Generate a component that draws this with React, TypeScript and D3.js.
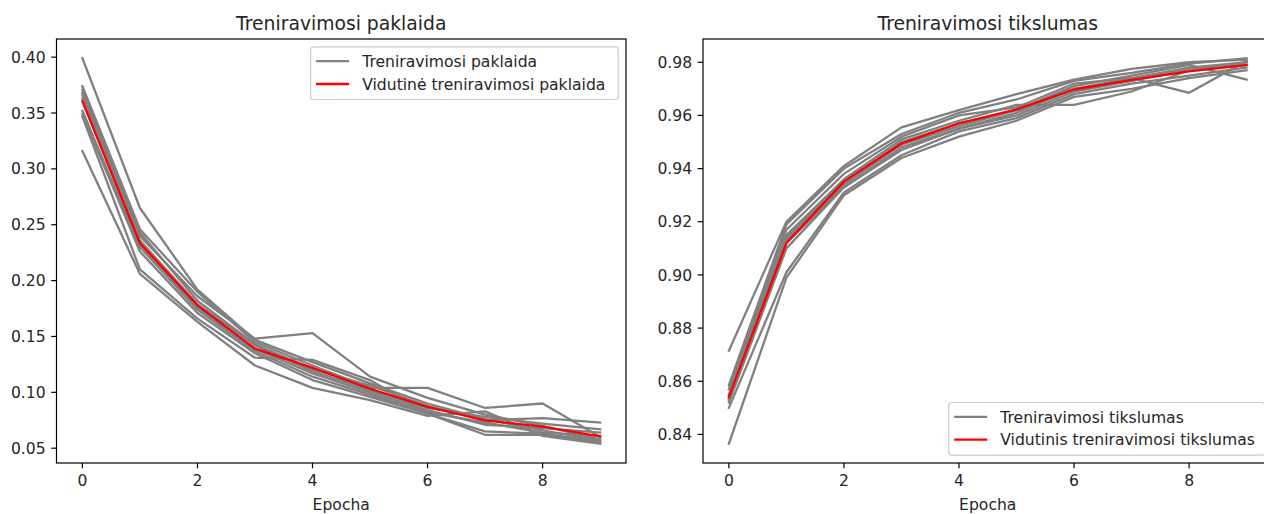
import React from "react";
import * as d3 from "d3";

const epochs = [0, 1, 2, 3, 4, 5, 6, 7, 8, 9];

const lossRuns: number[][] = [
  [0.399, 0.265, 0.192, 0.147, 0.127, 0.108, 0.090, 0.076, 0.066, 0.057],
  [0.371, 0.240, 0.186, 0.148, 0.153, 0.114, 0.095, 0.080, 0.070, 0.058],
  [0.374, 0.246, 0.190, 0.145, 0.124, 0.104, 0.104, 0.086, 0.090, 0.060],
  [0.368, 0.243, 0.182, 0.143, 0.121, 0.106, 0.088, 0.075, 0.077, 0.073],
  [0.366, 0.236, 0.179, 0.142, 0.119, 0.102, 0.086, 0.078, 0.072, 0.067],
  [0.363, 0.233, 0.176, 0.139, 0.117, 0.100, 0.084, 0.071, 0.068, 0.064],
  [0.352, 0.230, 0.174, 0.137, 0.114, 0.098, 0.082, 0.073, 0.064, 0.061],
  [0.349, 0.226, 0.171, 0.135, 0.111, 0.096, 0.081, 0.065, 0.063, 0.056],
  [0.347, 0.210, 0.166, 0.131, 0.129, 0.111, 0.081, 0.062, 0.062, 0.055],
  [0.316, 0.206, 0.163, 0.124, 0.104, 0.093, 0.079, 0.083, 0.061, 0.054],
];

const accRuns: number[][] = [
  [0.8715, 0.920, 0.941, 0.9555, 0.962, 0.968, 0.9735, 0.9775, 0.980, 0.981],
  [0.8585, 0.919, 0.940, 0.953, 0.961, 0.966, 0.973, 0.976, 0.9795, 0.9815],
  [0.857, 0.917, 0.938, 0.952, 0.960, 0.963, 0.972, 0.974, 0.9685, 0.9805],
  [0.855, 0.915, 0.936, 0.951, 0.958, 0.964, 0.964, 0.969, 0.977, 0.980],
  [0.854, 0.914, 0.935, 0.950, 0.957, 0.962, 0.971, 0.975, 0.979, 0.9735],
  [0.853, 0.913, 0.934, 0.949, 0.956, 0.962, 0.970, 0.974, 0.978, 0.980],
  [0.853, 0.912, 0.933, 0.948, 0.955, 0.961, 0.970, 0.973, 0.978, 0.979],
  [0.852, 0.910, 0.933, 0.947, 0.955, 0.960, 0.969, 0.973, 0.977, 0.979],
  [0.850, 0.901, 0.931, 0.945, 0.954, 0.959, 0.968, 0.972, 0.975, 0.978],
  [0.8365, 0.899, 0.930, 0.944, 0.952, 0.958, 0.967, 0.970, 0.974, 0.977],
];

const xTicks = [0, 2, 4, 6, 8];
const lossTicks = [0.05, 0.1, 0.15, 0.2, 0.25, 0.3, 0.35, 0.4];
const accTicks = [0.84, 0.86, 0.88, 0.9, 0.92, 0.94, 0.96, 0.98];

const lossTitle = "Treniravimosi paklaida";
const accTitle = "Treniravimosi tikslumas";
const lossLegend = ["Treniravimosi paklaida", "Vidutinė treniravimosi paklaida"];
const accLegend = ["Treniravimosi tikslumas", "Vidutinis treniravimosi tikslumas"];
const xLabel = "Epocha";

const W = 1264;
const H = 514;
const FONT = "'DejaVu Sans', Verdana, sans-serif";
const FS = 15.6;
const TITLE_FS = 18.75;
const TICK = 5.3;
const PAD = 5.5;
const LW = 2.3;
const TEXT = "#262626";

type PanelProps = {
  left: number;
  right: number;
  top: number;
  bottom: number;
  runs: number[][];
  yTicks: number[];
  title: string;
  legend: string[];
  legendPos: "upper right" | "lower right";
  legendW: number;
};

function Panel({ left, right, top, bottom, runs, yTicks, title, legend, legendPos, legendW }: PanelProps) {
  const x = d3.scaleLinear().domain([-0.45, 9.45]).range([left, right]);
  const all = runs.flat();
  const [mn, mx] = d3.extent(all) as [number, number];
  const pad = (mx - mn) * 0.05;
  const y = d3.scaleLinear().domain([mn - pad, mx + pad]).range([bottom, top]);
  const mean = epochs.map((_, i) => d3.mean(runs, (r) => r[i]) as number);
  const line = d3
    .line<number>()
    .x((_, i) => x(epochs[i]))
    .y((d) => y(d));
  const fmt = d3.format(".2f");
  const clipId = `clip-${Math.round(left)}`;

  const legH = 52.7;
  const legRight = right - 7.8;
  const legLeft = legRight - legendW;
  const legTop = legendPos === "upper right" ? top + 7.8 : bottom - 7.8 - legH;

  return (
    <g>
      <defs>
        <clipPath id={clipId}>
          <rect x={left} y={top} width={right - left} height={bottom - top} />
        </clipPath>
      </defs>
      <g clipPath={`url(#${clipId})`}>
        {runs.map((r, k) => (
          <path key={k} d={line(r) || ""} fill="none" stroke="#808080" strokeWidth={LW} strokeLinejoin="round" strokeLinecap="square" />
        ))}
        <path d={line(mean) || ""} fill="none" stroke="#ff0000" strokeWidth={LW} strokeLinejoin="round" strokeLinecap="square" />
      </g>
      <rect x={left} y={top} width={right - left} height={bottom - top} fill="none" stroke="#000" strokeWidth={1.2} />
      {xTicks.map((t) => (
        <g key={t}>
          <line x1={x(t)} x2={x(t)} y1={bottom} y2={bottom + TICK} stroke="#000" strokeWidth={1.2} />
          <text x={x(t)} y={bottom + TICK + PAD + 12.6} textAnchor="middle" fontFamily={FONT} fontSize={FS} fill={TEXT}>
            {t}
          </text>
        </g>
      ))}
      {yTicks.map((t) => (
        <g key={t}>
          <line x1={left - TICK} x2={left} y1={y(t)} y2={y(t)} stroke="#000" strokeWidth={1.2} />
          <text x={left - TICK - PAD} y={y(t)} dy="0.36em" textAnchor="end" fontFamily={FONT} fontSize={FS} fill={TEXT}>
            {fmt(t)}
          </text>
        </g>
      ))}
      <text x={(left + right) / 2} y={top - 9.5} textAnchor="middle" fontFamily={FONT} fontSize={TITLE_FS} fill={TEXT}>
        {title}
      </text>
      <text x={(left + right) / 2} y={bottom + 47} textAnchor="middle" fontFamily={FONT} fontSize={FS} fill={TEXT}>
        {xLabel}
      </text>
      <g>
        <rect x={legLeft} y={legTop} width={legendW} height={legH} rx={3} fill="#fff" fillOpacity={0.8} stroke="#cccccc" strokeWidth={1.2} />
        {legend.map((lab, i) => {
          const cy = legTop + 14.4 + i * 22.8;
          return (
            <g key={lab}>
              <line x1={legLeft + 5.5} x2={legLeft + 38.5} y1={cy} y2={cy} stroke={i === 0 ? "#808080" : "#ff0000"} strokeWidth={LW} />
              <text x={legLeft + 51.6} y={cy} dy="0.36em" fontFamily={FONT} fontSize={FS} fill={TEXT}>
                {lab}
              </text>
            </g>
          );
        })}
      </g>
    </g>
  );
}

export default function App() {
  return (
    <svg width={W} height={H} style={{ position: "absolute", left: 0, top: 0, background: "#fff" }}>
      <rect x={0} y={0} width={W} height={H} fill="#fff" />
      <Panel left={56.5} right={626} top={39} bottom={463} runs={lossRuns} yTicks={lossTicks} title={lossTitle} legend={lossLegend} legendPos="upper right" legendW={307.6} />
      <Panel left={703} right={1272.5} top={39} bottom={463} runs={accRuns} yTicks={accTicks} title={accTitle} legend={accLegend} legendPos="lower right" legendW={316} />
    </svg>
  );
}
